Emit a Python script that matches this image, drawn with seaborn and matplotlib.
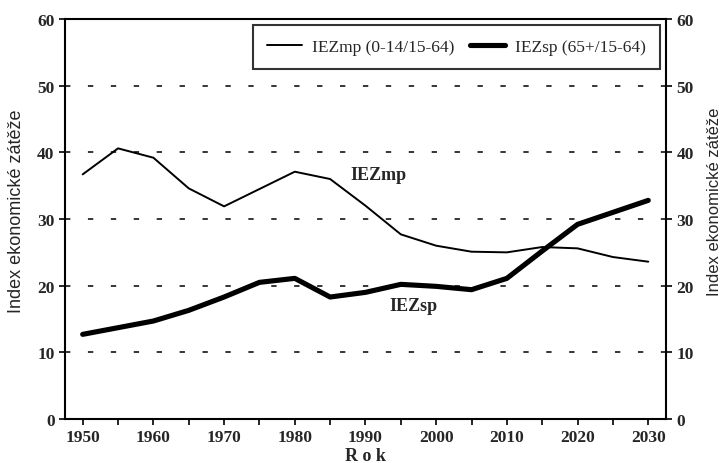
import matplotlib
matplotlib.use("Agg")
import matplotlib.pyplot as plt
import seaborn as sns
import pandas as pd
from matplotlib.ticker import MultipleLocator

years = [1950, 1955, 1960, 1965, 1970, 1975, 1980, 1985, 1990, 1995,
         2000, 2005, 2010, 2015, 2020, 2025, 2030]
iez_mp = [36.7, 40.6, 39.2, 34.6, 31.9, 34.5, 37.1, 36.0, 32.0, 27.7,
          26.0, 25.1, 25.0, 25.8, 25.6, 24.3, 23.6]
iez_sp = [12.7, 13.7, 14.7, 16.3, 18.3, 20.5, 21.1, 18.3, 19.0, 20.2,
          19.9, 19.4, 21.1, 25.2, 29.2, 31.0, 32.8]
label_mp = "IEZmp (0-14/15-64)"
label_sp = "IEZsp (65+/15-64)"
y_ticks = [0, 10, 20, 30, 40, 50, 60]
x_ticks = [1950, 1960, 1970, 1980, 1990, 2000, 2010, 2020, 2030]

sns.set_theme(style="white")
plt.rcParams['font.family'] = ['Liberation Serif', 'DejaVu Serif']

df = pd.DataFrame({"Rok": years, "mp": iez_mp, "sp": iez_sp})

fig = plt.figure(figsize=(7.24, 4.64), dpi=100)
ax = fig.add_axes([0.0898, 0.0948, 0.83, 0.862])

sns.lineplot(data=df, x="Rok", y="mp", ax=ax, color="black", linewidth=1.4, label=label_mp)
sns.lineplot(data=df, x="Rok", y="sp", ax=ax, color="black", linewidth=3.7, label=label_sp)

ax.set_xlim(1947.5, 2032.5)
ax.set_ylim(0, 60)
ax.set_yticks(y_ticks)
ax.set_xticks(x_ticks)
ax.xaxis.set_minor_locator(MultipleLocator(5))
for y in y_ticks[1:-1]:
    ax.axhline(y, color="black", linewidth=1.1, linestyle=(0, (3.5, 11.5)), zorder=0)

for s in ax.spines.values():
    s.set_visible(True)
    s.set_color("black")
    s.set_linewidth(1.5)

ax.tick_params(axis="both", which="both", direction="out", color="black",
               length=4, width=1.2, labelsize=12.5)
ax.tick_params(axis="x", which="both", bottom=True)
ax.tick_params(axis="y", left=True)
for lab in ax.get_xticklabels() + ax.get_yticklabels():
    lab.set_fontweight("bold")

ax.set_xlabel("R o k", fontsize=13, fontweight="bold", labelpad=1)
ax.set_ylabel("Index ekonomické zátěže", fontsize=13, family=["Liberation Sans", "DejaVu Sans"])
ax.yaxis.set_label_coords(-0.066, 0.523)

ax2 = ax.twinx()
ax2.set_ylim(0, 60)
ax2.set_yticks(y_ticks)
ax2.tick_params(axis="y", right=True, direction="out", length=4, width=1.2,
                labelsize=12.5, color="black")
for lab in ax2.get_yticklabels():
    lab.set_fontweight("bold")
ax2.set_ylabel("Index ekonomické zátěže", fontsize=12, family=["Liberation Sans", "DejaVu Sans"],
               rotation=90)
ax2.yaxis.set_label_coords(1.068, 0.545)
for s in ax2.spines.values():
    s.set_visible(False)

ax.text(1987.8, 36.7, "IEZmp", fontsize=13, fontweight="bold", va="center", ha="left")
ax.text(1993.4, 17.1, "IEZsp", fontsize=13, fontweight="bold", va="center", ha="left")

leg = ax.legend(loc="upper right", ncol=2, frameon=True, fancybox=False,
                edgecolor="black", borderpad=0.8, handlelength=2.0,
                columnspacing=0.9, handletextpad=0.6, borderaxespad=0.35,
                prop={"family": "Liberation Serif", "size": 12.5})
leg.get_frame().set_linewidth(1.5)

fig.savefig("out.png", dpi=100)
